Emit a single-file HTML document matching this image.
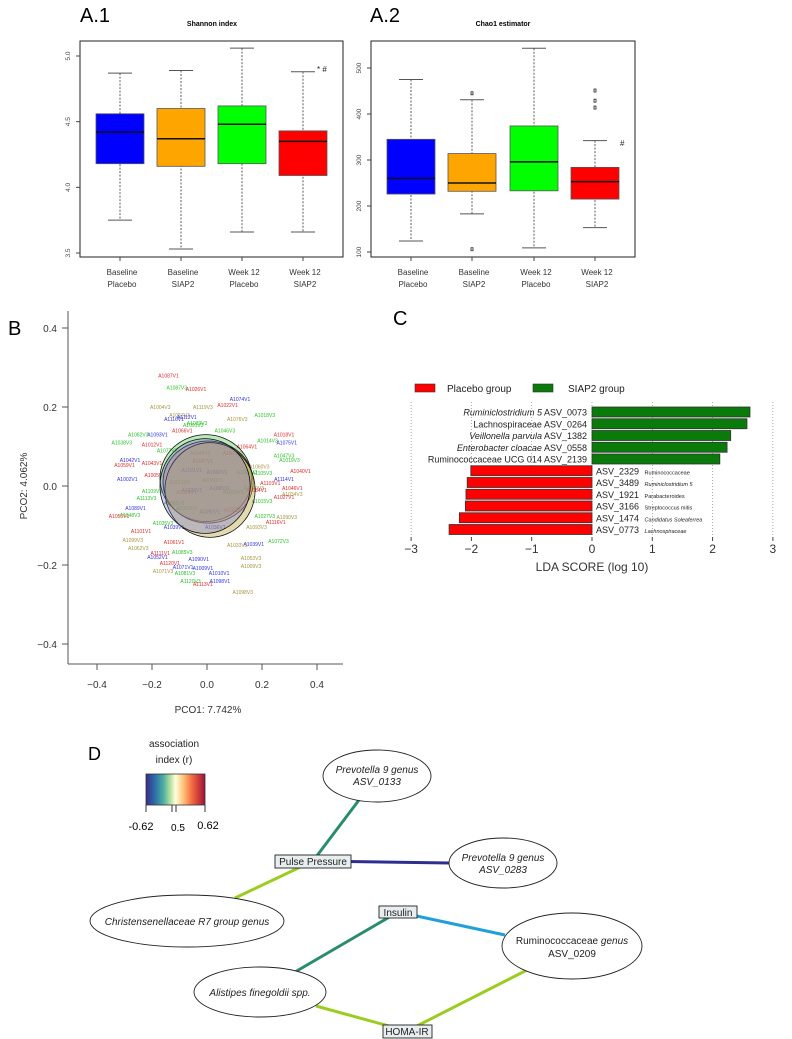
<!DOCTYPE html>
<html><head><meta charset="utf-8">
<style>
html,body{margin:0;padding:0;background:#fff;}
svg{display:block;font-family:"Liberation Sans",sans-serif;}
</style></head>
<body>
<svg id="fig" width="792" height="1039" viewBox="0 0 792 1039" xmlns="http://www.w3.org/2000/svg">
<rect width="792" height="1039" fill="#fff"/>
<text x="80" y="22" font-size="20">A.1</text>
<text x="370" y="22" font-size="20">A.2</text>
<text x="212" y="26" font-size="7" font-weight="bold" text-anchor="middle">Shannon index</text>
<text x="503" y="26" font-size="7" font-weight="bold" text-anchor="middle">Chao1 estimator</text>
<text x="8" y="335" font-size="20">B</text>
<text x="393" y="325" font-size="20">C</text>
<text x="88" y="760" font-size="18">D</text>
<g id="a1"></g>
<g id="a2"></g>
<g id="b"></g>
<g id="c"></g>
<g id="d"></g>
</svg>
<script>
const groups = ["Baseline|Placebo","Baseline|SIAP2","Week 12|Placebo","Week 12|SIAP2"];
const boxColors = ["#0000ff","#ffa500","#00ff00","#ff0000"];
const shannonLow = [3.75,3.53,3.66,3.66];
const shannonQ1 = [4.18,4.16,4.18,4.09];
const shannonMed = [4.42,4.37,4.48,4.35];
const shannonQ3 = [4.56,4.60,4.62,4.43];
const shannonHigh = [4.87,4.89,5.06,4.88];
const shannonTicks = [3.5,4.0,4.5,5.0];
const chaoLow = [124,183,109,153];
const chaoQ1 = [226,232,233,215];
const chaoMed = [260,250,296,253];
const chaoQ3 = [345,314,374,284];
const chaoHigh = [475,431,543,342];
const chaoOutliers = [[],[445,106],[],[451,429,414]];
const chaoTicks = [100,200,300,400,500];

const pcoLabels = ["A1087V1","A1087V3","A1026V1","A1074V1","A1022V1","A1119V3","A1004V3","A1018V3","A1116V1","A1076V3","A1046V3","A1093V1","A1082V3","A1066V1","A1038V3","A1012V1","A1018V1","A1075V1","A1014V3","A1047V3","A1019V3","A1042V1","A1059V1","A1043V1","A1002V1","A1005V1","A1040V1","A1114V1","A1103V1","A1046V1","A1034V3","A1027V1","A1015V3","A1109V3","A1113V3","A1089V1","A1055V1","A1048V3","A1035V3","A1039V1","A1101V1","A1099V3","A1061V1","A1062V3","A1027V3","A1090V3","A1116V1","A1093V3","A1072V3","A1039V1","A1033V3","A1052V1","A1111V1","A1085V3","A1120V1","A1071V1","A1071V3","A1081V3","A1009V1","A1010V1","A1053V3","A1009V3","A1120V3","A1113V1","A1098V1","A1098V3","A1090V1","A1021V1","A1067V1","A1060V1","A1080V3","A1095V1","A1010V3","A1092V1","A1022V3","A1036V1","A1101V3","A1024V1","A1030V1","A1088V3","A1044V3","A1070V1","A1029V3","A1060V3","A1105V3","A1064V1","A1077V3","A1057V3","A1089V3","A1112V1","A1091V3","A1070V3","A1084V1","A1063V3"];
const pcoGroup = [0,2,0,1,0,3,3,2,1,3,2,1,2,0,2,0,0,1,2,2,2,1,0,0,1,0,0,1,0,0,3,0,2,2,2,1,0,2,2,1,0,3,0,3,2,3,0,3,2,1,3,1,0,2,0,1,3,2,1,1,3,3,2,0,1,3,1,1,0,1,3,1,2,1,0,1,3,0,1,2,3,0,2,3,2,0,2,3,2,1,2,3,0,2];
const pco1 = [-0.14,-0.11,-0.04,0.12,0.075,-0.015,-0.17,0.21,-0.12,0.11,0.065,-0.18,-0.25,-0.09,-0.31,-0.2,0.28,0.29,0.22,0.28,0.30,-0.28,-0.3,-0.2,-0.29,-0.19,0.34,0.28,0.23,0.31,0.31,0.28,0.20,-0.2,-0.22,-0.26,-0.32,-0.28,-0.16,-0.12,-0.24,-0.27,-0.12,-0.25,0.21,0.29,0.25,0.18,0.26,0.17,0.11,-0.18,-0.17,-0.09,-0.135,-0.087,-0.16,-0.08,-0.015,0.044,0.16,0.16,-0.06,-0.015,0.047,0.13,-0.03,-0.055,-0.015,0.036,0.02,0.047,0.095,0.01,0.1,0.03,-0.1,-0.075,-0.055,-0.12,-0.025,0.095,0.145,0.19,0.2,0.145,-0.145,-0.1,-0.036,-0.073,-0.05,0.17,0.18,-0.075];
const pco2 = [0.28,0.25,0.245,0.22,0.205,0.20,0.20,0.18,0.17,0.17,0.14,0.13,0.13,0.14,0.11,0.105,0.13,0.11,0.115,0.077,0.066,0.066,0.053,0.058,0.018,0.028,0.038,0.018,0.008,-0.005,-0.02,-0.028,-0.038,-0.013,-0.03,-0.056,-0.076,-0.074,-0.094,-0.104,-0.114,-0.137,-0.142,-0.157,-0.076,-0.078,-0.091,-0.104,-0.139,-0.147,-0.149,-0.18,-0.17,-0.167,-0.195,-0.205,-0.215,-0.22,-0.207,-0.22,-0.182,-0.203,-0.24,-0.248,-0.24,-0.268,-0.185,0.04,0.063,0.035,0.015,-0.005,-0.015,-0.065,-0.06,-0.104,0.01,-0.015,-0.01,-0.043,0.083,0.083,0.035,0.05,0.033,0.1,0.09,0.18,0.16,0.175,0.155,-0.005,-0.01,-0.056];
const pcoColors = ["#e02828","#3030e0","#28c028","#a39440"];
const ellipseCx = [-0.004,0.004,0.011,-0.007];
const ellipseCy = [0.02,0.01,-0.01,0.0];
const ellipseRx = [0.167,0.164,0.164,0.164];
const ellipseRy = [0.11,0.104,0.12,0.12];
const ellipseFills = ["rgba(100,210,100,0.45)","rgba(230,100,100,0.35)","rgba(190,175,80,0.45)","rgba(110,110,210,0.32)"];
const pcoXTicks = [-0.4,-0.2,0.0,0.2,0.4];
const pcoYTicks = [-0.4,-0.2,0.0,0.2,0.4];

const ldaAsv = ["ASV_0073","ASV_0264","ASV_1382","ASV_0558","ASV_2139","ASV_2329","ASV_3489","ASV_1921","ASV_3166","ASV_1474","ASV_0773"];
const ldaTaxa = ["Ruminiclostridium 5","Lachnospiraceae","Veillonella parvula","Enterobacter cloacae","Ruminococcaceae UCG 014","Ruminococcaceae","Ruminiclostridium 5","Parabacteroides","Streptococcus mitis","Candidatus Soleaferrea","Lachnospiraceae"];
const ldaItalic = [1,0,1,1,0,0,1,0,0,1,1];
const ldaScores = [2.62,2.57,2.30,2.24,2.12,-2.01,-2.07,-2.09,-2.10,-2.20,-2.37];
const ldaTicks = [-3,-2,-1,0,1,2,3];

const ns="http://www.w3.org/2000/svg";
function mk(parent,tag,attrs,text){const e=document.createElementNS(ns,tag);for(const k in attrs)e.setAttribute(k,attrs[k]);if(text!==undefined)e.textContent=text;parent.appendChild(e);return e;}

function boxplot(gid,low,q1,med,q3,high,outl,ticks,yTop,vTop,yBot,vBot,xs,tickFmt,marks){
  const g=document.getElementById(gid);
  const y=v=>yBot+(v-vBot)*(yTop-yBot)/(vTop-vBot);
  const fx=xs[0],fr=xs[1];
  const frame=mk(g,'rect',{x:fx,y:41,width:fr-fx,height:216,fill:'none',stroke:'#222','stroke-width':1});
  
  
  ticks.forEach(t=>{
    const yy=y(t);
    const tl=mk(g,'line',{x1:fx,x2:fx-4,y1:yy,y2:yy,stroke:'#444'});
    
    
    const tx=mk(g,'text',{x:fx-10,y:yy,'font-size':6.5,fill:'#444','text-anchor':'middle',transform:`rotate(-90 ${fx-10} ${yy})`},tickFmt(t));
    
    
  });
  const cxs=xs[2];
  groups.forEach((gr,i)=>{
    const cx=cxs[i],w=48;
    const wk=mk(g,'line',{x1:cx,x2:cx,y1:y(high[i]),y2:y(low[i]),stroke:'#333','stroke-dasharray':'2,1.5','stroke-width':0.8});
    
    
    [high[i],low[i]].forEach(v=>{
      const c=mk(g,'line',{x1:cx-12,x2:cx+12,y1:y(v),y2:y(v),stroke:'#555','stroke-width':1});
      
      
    });
    const b=mk(g,'rect',{x:cx-w/2,y:y(q3[i]),width:w,height:y(q1[i])-y(q3[i]),fill:boxColors[i],stroke:'#555','stroke-width':0.8});
    
    
    const m=mk(g,'line',{x1:cx-w/2,x2:cx+w/2,y1:y(med[i]),y2:y(med[i]),stroke:'#111','stroke-width':1.5});
    
    
    (outl[i]||[]).forEach(v=>{
      const o=mk(g,'rect',{x:cx-1,y:y(v)-1.5,width:2,height:3,fill:'none',stroke:'#222','stroke-width':0.8});
      
      
    });
    const tk=mk(g,'line',{x1:cx,x2:cx,y1:257,y2:261,stroke:'#444'});
    
    
    const parts=gr.split('|');
    const l1=mk(g,'text',{x:cx+2,y:275,'font-size':8,fill:'#333','text-anchor':'middle'},parts[0]);
    
    
    const l2=mk(g,'text',{x:cx+2,y:287,'font-size':8,fill:'#333','text-anchor':'middle'},parts[1]);
    
    
  });
  const s=mk(g,'text',{x:marks[0],y:marks[1],'font-size':8,fill:'#222'},marks[2]);
  
  
}
boxplot('a1',shannonLow,shannonQ1,shannonMed,shannonQ3,shannonHigh,[],shannonTicks,56,5.0,253,3.5,[80,343,[120,181,242,303]],t=>t.toFixed(1),[317,72,'* #']);
boxplot('a2',chaoLow,chaoQ1,chaoMed,chaoQ3,chaoHigh,chaoOutliers,chaoTicks,68,500,252,100,[371,635,[411,472,534,595]],t=>String(t),[620,146,'#']);

// Panel B
(function(){
  const g=document.getElementById('b');
  const X=v=>207+v*275, Y=v=>486-v*395;
  const ax=mk(g,'line',{x1:68,x2:68,y1:311,y2:664,stroke:'#555'});
  
  
  const bx=mk(g,'line',{x1:68,x2:343,y1:664,y2:664,stroke:'#555'});
  
  
  pcoYTicks.forEach(t=>{
    const l=mk(g,'line',{x1:62,x2:68,y1:Y(t),y2:Y(t),stroke:'#555'});
    
    
    const tx=mk(g,'text',{x:57,y:Y(t)+4,'font-size':10,fill:'#333','text-anchor':'end'},t.toFixed(1).replace('-','−'));
    
    
  });
  pcoXTicks.forEach(t=>{
    const l=mk(g,'line',{x1:X(t),x2:X(t),y1:664,y2:670,stroke:'#555'});
    
    
    const tx=mk(g,'text',{x:X(t),y:688,'font-size':10,fill:'#333','text-anchor':'middle'},t.toFixed(1).replace('-','−'));
    
    
  });
  const xt=mk(g,'text',{x:208,y:713,'font-size':10,fill:'#333','text-anchor':'middle'},'PCO1: 7.742%');
  
  
  const yt=mk(g,'text',{x:27,y:486,'font-size':10,fill:'#333','text-anchor':'middle',transform:'rotate(-90 27 486)'},'PCO2: 4.062%');
  
  
  pcoLabels.forEach((lab,i)=>{
    const t=mk(g,'text',{x:X(pco1[i]),y:Y(pco2[i])+2,'font-size':5,fill:pcoColors[pcoGroup[i]],'text-anchor':'middle'},lab);
    
    
  });
  ellipseCx.forEach((c,i)=>{
    const e=mk(g,'ellipse',{cx:X(c),cy:Y(ellipseCy[i]),rx:ellipseRx[i]*275,ry:ellipseRy[i]*395,fill:ellipseFills[i],stroke:'#111','stroke-width':0.8});
    
    
  });
})();

// Panel C
(function(){
  const g=document.getElementById('c');
  const X=v=>592+v*60.3;
  const rowY=i=>412+i*11.75;
  ldaTicks.forEach(t=>{
    const l=mk(g,'line',{x1:X(t),x2:X(t),y1:402,y2:537,stroke:'#888','stroke-dasharray':'1,2','stroke-width':0.7});
    
    
    const tk=mk(g,'line',{x1:X(t),x2:X(t),y1:537,y2:541,stroke:'#444'});
    
    
    const tx=mk(g,'text',{x:X(t),y:553,'font-size':12,fill:'#333','text-anchor':'middle'},t===0?'0':(t<0?'−'+(-t):String(t)));
    
    
  });
  ldaScores.forEach((v,i)=>{
    const y=rowY(i);
    const pos=v>0;
    const r=mk(g,'rect',{x:pos?X(0):X(v),y:y-5,width:Math.abs(v)*60.3,height:10,fill:pos?'#0a7a0a':'#ff0000',stroke:'#333','stroke-width':0.8});
    
    
    if(pos){
      const t=mk(g,'text',{x:587,y:y+3.5,'font-size':9,fill:'#222','text-anchor':'end'});
      
      
      mk(t,'tspan',{'font-style':ldaItalic[i]?'italic':'normal'},ldaTaxa[i]);
      mk(t,'tspan',{},'  '+ldaAsv[i]);
    }else{
      const t=mk(g,'text',{x:596,y:y+3.5,'font-size':9,fill:'#222'});
      
      
      mk(t,'tspan',{},ldaAsv[i]+' ');
      mk(t,'tspan',{'font-size':5.5,'font-style':ldaItalic[i]?'italic':'normal',dx:3},ldaTaxa[i]);
    }
  });
  const l1=mk(g,'rect',{x:415,y:384,width:20,height:8,fill:'#ff0000',stroke:'#333','stroke-width':0.6});
  
  
  const t1=mk(g,'text',{x:447,y:392,'font-size':10,fill:'#222'},'Placebo group');
  
  
  const l2=mk(g,'rect',{x:533,y:384,width:20,height:8,fill:'#0a7a0a',stroke:'#333','stroke-width':0.6});
  
  
  const t2=mk(g,'text',{x:568,y:392,'font-size':10,fill:'#222'},'SIAP2 group');
  
  
  const at=mk(g,'text',{x:592,y:571,'font-size':12,fill:'#333','text-anchor':'middle'},'LDA SCORE (log 10)');
  
  
})();
</script>
<svg style="position:absolute;left:0;top:0" width="792" height="1039">
<defs><linearGradient id="cb" x1="0" x2="1">
<stop offset="0" stop-color="#3b2a8a"/><stop offset="0.15" stop-color="#2c6fa8"/><stop offset="0.3" stop-color="#4fb0a0"/><stop offset="0.42" stop-color="#bde3a0"/><stop offset="0.5" stop-color="#ffffe0"/><stop offset="0.62" stop-color="#fdc980"/><stop offset="0.78" stop-color="#f36a40"/><stop offset="1" stop-color="#a0103a"/></linearGradient></defs>
<text x="174" y="747" font-size="10" text-anchor="middle" fill="#222">association</text>
<text x="174" y="763" font-size="10" text-anchor="middle" fill="#222">index (r)</text>
<rect x="146" y="774" width="59" height="31" fill="url(#cb)" stroke="#333" stroke-width="0.8"/>
<line x1="146" y1="805" x2="146" y2="812" stroke="#333"/>
<line x1="172" y1="805" x2="172" y2="812" stroke="#333"/>
<line x1="176" y1="805" x2="176" y2="812" stroke="#333"/>
<line x1="205" y1="805" x2="205" y2="812" stroke="#333"/>
<text x="141" y="830" font-size="11" text-anchor="middle">-0.62</text>
<text x="178" y="831" font-size="10" text-anchor="middle">0.5</text>
<text x="208" y="829" font-size="11" text-anchor="middle">0.62</text>
<g stroke-width="3">
<line x1="313" y1="861" x2="359" y2="800" stroke="#2a8c6c"/>
<line x1="313" y1="861" x2="449" y2="863" stroke="#2e2e90"/>
<line x1="313" y1="861" x2="235" y2="898" stroke="#9ccc20"/>
<line x1="398" y1="912" x2="295" y2="972" stroke="#2a8c6c"/>
<line x1="398" y1="912" x2="505" y2="935" stroke="#20a0d8"/>
<line x1="316" y1="1006" x2="407" y2="1031" stroke="#9ccc20"/>
<line x1="407" y1="1031" x2="527" y2="970" stroke="#9ccc20"/>
</g>
<g fill="#fff" stroke="#222" stroke-width="0.9" font-size="10" text-anchor="middle">
<ellipse cx="377" cy="776" rx="54" ry="26"/>
<text x="377" y="773" font-style="italic" stroke="none" fill="#222">Prevotella 9 genus</text>
<text x="377" y="785" font-style="italic" stroke="none" fill="#222">ASV_0133</text>
<ellipse cx="503" cy="863" rx="54" ry="25"/>
<text x="503" y="861" font-style="italic" stroke="none" fill="#222">Prevotella 9 genus</text>
<text x="503" y="873" font-style="italic" stroke="none" fill="#222">ASV_0283</text>
<ellipse cx="187" cy="921" rx="97" ry="26"/>
<text x="187" y="925" font-style="italic" stroke="none" fill="#222">Christensenellaceae R7 group genus</text>
<ellipse cx="572" cy="946" rx="70" ry="33"/>
<text x="572" y="944" stroke="none" fill="#222">Ruminococcaceae <tspan font-style="italic">genus</tspan></text>
<text x="572" y="957" stroke="none" fill="#222">ASV_0209</text>
<ellipse cx="260" cy="992" rx="66" ry="25"/>
<text x="260" y="996" font-style="italic" stroke="none" fill="#222">Alistipes finegoldii spp.</text>
<rect x="275" y="855" width="76" height="13" fill="#e8eef0"/>
<text x="313" y="865" stroke="none" fill="#222">Pulse Pressure</text>
<rect x="379" y="906" width="38" height="12" fill="#e8eef0"/>
<text x="398" y="916" stroke="none" fill="#222">Insulin</text>
<rect x="383" y="1025" width="49" height="13" fill="#e8eef0"/>
<text x="407" y="1035" stroke="none" fill="#222">HOMA-IR</text>
</g>
</svg>
</body></html>
